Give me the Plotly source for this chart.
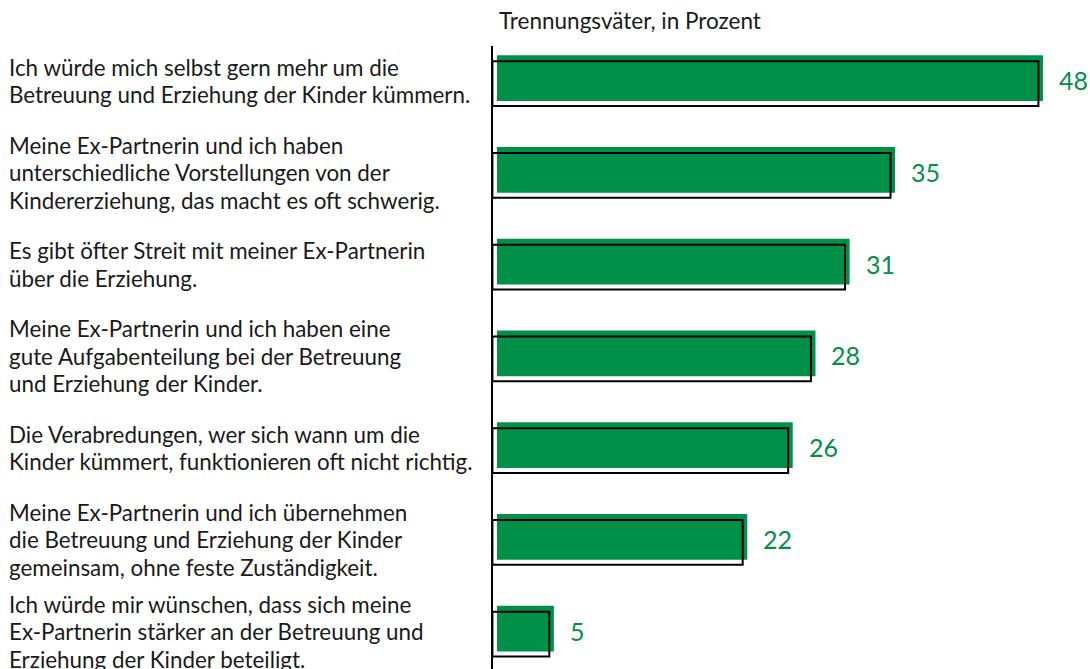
import plotly.graph_objects as go

labels = [
    ["Ich würde mich selbst gern mehr um die", "Betreuung und Erziehung der Kinder kümmern."],
    ["Meine Ex-Partnerin und ich haben", "unterschiedliche Vorstellungen von der", "Kindererziehung, das macht es oft schwerig."],
    ["Es gibt öfter Streit mit meiner Ex-Partnerin", "über die Erziehung."],
    ["Meine Ex-Partnerin und ich haben eine", "gute Aufgabenteilung bei der Betreuung", "und Erziehung der Kinder."],
    ["Die Verabredungen, wer sich wann um die", "Kinder kümmert, funktionieren oft nicht richtig."],
    ["Meine Ex-Partnerin und ich übernehmen", "die Betreuung und Erziehung der Kinder", "gemeinsam, ohne feste Zuständigkeit."],
    ["Ich würde mir wünschen, dass sich meine", "Ex-Partnerin stärker an der Betreuung und", "Erziehung der Kinder beteiligt."],
]
values = [48, 35, 31, 28, 26, 22, 5]
subtitle = "Trennungsväter, in Prozent"

GREEN = "#009048"
FONT = "Lato"
W, H = 1090, 669
L, R, T, B = 493, 0, 46, 0
pw = W - L - R
ph = H - T - B

pos = list(range(len(values)))

fig = go.Figure()
fig.add_trace(go.Bar(
    y=pos, x=values, orientation="h", base=0,
    width=0.5, offset=-0.25,
    marker=dict(color=GREEN, line=dict(width=0)),
    hoverinfo="skip",
))
fig.add_trace(go.Bar(
    y=pos, x=values, orientation="h", base=-0.4,
    width=0.49, offset=-0.185,
    marker=dict(color="rgba(0,0,0,0)", line=dict(width=2, color="black")),
    hoverinfo="skip",
))

ann = []
line_gap = 27.5
for i, lines in enumerate(labels):
    n = len(lines)
    for j, t in enumerate(lines):
        off = 3 + (j - (n - 1) / 2) * line_gap
        ann.append(dict(
            x=(7 - L) / pw, xref="paper", xanchor="left",
            y=i, yref="y", yanchor="middle", yshift=-off,
            text=t, showarrow=False, align="left",
            font=dict(family=FONT, size=22.4, color="#1a1a1a"),
        ))
    ann.append(dict(
        x=values[i], xref="x", xanchor="left", xshift=14,
        y=i, yref="y", yanchor="middle", yshift=-2,
        text=str(values[i]), showarrow=False,
        font=dict(family=FONT, size=25, color=GREEN),
    ))
ann.append(dict(
    x=(497 - L) / pw, xref="paper", xanchor="left",
    y=1 + (T - 20) / ph, yref="paper", yanchor="middle",
    text=subtitle, showarrow=False,
    font=dict(family=FONT, size=22.5, color="#1a1a1a"),
))

fig.update_layout(
    width=W, height=H,
    margin=dict(l=L, r=R, t=T, b=B, pad=0),
    paper_bgcolor="white", plot_bgcolor="white",
    barmode="overlay", showlegend=False,
    annotations=ann,
    xaxis=dict(range=[-0.35, (pw) / 11.375 - 0.35], visible=False, fixedrange=True),
    yaxis=dict(range=[6.44, -0.35], showline=True, linecolor="black", linewidth=2,
               showticklabels=False, ticks="", showgrid=False, zeroline=False, fixedrange=True),
)

fig.write_html(
    "out.html",
    config={"displayModeBar": False, "staticPlot": True},
    post_script="document.body.style.margin='0';document.body.style.overflow='hidden';",
)
